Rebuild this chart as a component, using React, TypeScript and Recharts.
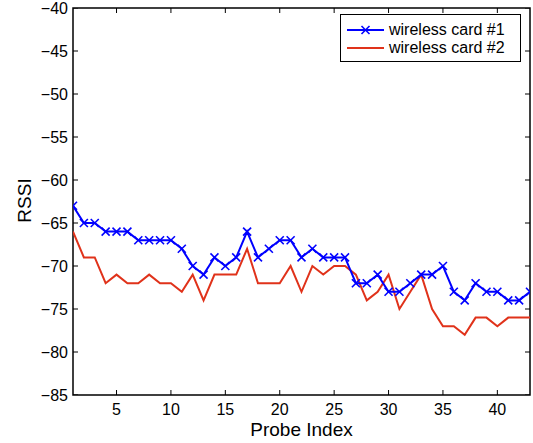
import { ComposedChart, Line, Scatter, XAxis, YAxis, ReferenceArea } from "recharts";

// probe index 1..43
const probeIndex = Array.from({ length: 43 }, (_, i) => i + 1);

const card1Rssi = [
  -63, -65, -65, -66, -66, -66, -67, -67, -67, -67,
  -68, -70, -71, -69, -70, -69, -66, -69, -68, -67,
  -67, -69, -68, -69, -69, -69, -72, -72, -71, -73,
  -73, -72, -71, -71, -70, -73, -74, -72, -73, -73,
  -74, -74, -73,
];

const card2Rssi = [
  -66, -69, -69, -72, -71, -72, -72, -71, -72, -72,
  -73, -71, -74, -71, -71, -71, -68, -72, -72, -72,
  -70, -73, -70, -71, -70, -70, -71, -74, -73, -71,
  -75, -73, -71, -75, -77, -77, -78, -76, -76, -77,
  -76, -76, -76,
];

const xTicks = [5, 10, 15, 20, 25, 30, 35, 40];
const yTicks = [-85, -80, -75, -70, -65, -60, -55, -50, -45, -40];
const X_DOMAIN: [number, number] = [1, 43];
const Y_DOMAIN: [number, number] = [-85, -40];

const SERIES = [
  { key: "card1", name: "wireless card #1", color: "#0000ff", marker: true },
  { key: "card2", name: "wireless card #2", color: "#e0321a", marker: false },
];

const FONT = "'Liberation Sans', Arial, Helvetica, sans-serif";
const TICK_LEN = 5;
const X_GAP = 9;
const Y_GAP = 5;

const data = probeIndex.map((p, i) => ({ idx: p, card1: card1Rssi[i], card2: card2Rssi[i] }));

// tick mark anchor points on the four sides of the box
const bottomMarks = xTicks.map((v) => ({ idx: v, rssi: Y_DOMAIN[0] }));
const topMarks = xTicks.map((v) => ({ idx: v, rssi: Y_DOMAIN[1] }));
const leftMarks = yTicks.map((v) => ({ idx: X_DOMAIN[0], rssi: v }));
const rightMarks = yTicks.map((v) => ({ idx: X_DOMAIN[1], rssi: v }));

const fmtMinus = (v: number) => (v < 0 ? "\u2212" + Math.abs(v) : String(v));

// MATLAB style "x" marker
function CrossDot(props: any) {
  const { cx, cy } = props;
  if (cx == null || cy == null) return null;
  const r = 4;
  return (
    <g stroke="#0000ff" strokeWidth={1.6}>
      <line x1={cx - r} y1={cy - r} x2={cx + r} y2={cy + r} />
      <line x1={cx - r} y1={cy + r} x2={cx + r} y2={cy - r} />
    </g>
  );
}

// inward tick marks
const markUp = (p: any) => <path d={`M${p.cx},${p.cy}V${p.cy - TICK_LEN}`} stroke="#000" strokeWidth={1} fill="none" />;
const markDown = (p: any) => <path d={`M${p.cx},${p.cy}V${p.cy + TICK_LEN}`} stroke="#000" strokeWidth={1} fill="none" />;
const markRight = (p: any) => <path d={`M${p.cx},${p.cy}H${p.cx + TICK_LEN}`} stroke="#000" strokeWidth={1} fill="none" />;
const markLeft = (p: any) => <path d={`M${p.cx},${p.cy}H${p.cx - TICK_LEN}`} stroke="#000" strokeWidth={1} fill="none" />;

function BottomTick({ x, y, payload }: any) {
  return (
    <text x={x} y={y} dy="0.71em" textAnchor="middle" fontSize={16} fontFamily={FONT} fill="#000">
      {payload.value}
    </text>
  );
}

function LeftTick({ x, y, payload }: any) {
  return (
    <text x={x} y={y} dy="0.355em" textAnchor="end" fontSize={16} fontFamily={FONT} fill="#000">
      {fmtMinus(payload.value)}
    </text>
  );
}

function LegendBox() {
  return (
    <div
      style={{
        position: "absolute",
        left: 340,
        top: 14,
        border: "1px solid #000",
        background: "#fff",
        width: 181,
        height: 48,
        boxSizing: "border-box",
        fontFamily: FONT,
        fontSize: 16,
        color: "#000",
        paddingTop: 6,
      }}
    >
      {SERIES.map((s) => (
        <div key={s.key} style={{ display: "flex", alignItems: "center", height: 18 }}>
          <svg width={48} height={18} style={{ flex: "none" }}>
            <line x1={6} y1={9} x2={43} y2={9} stroke={s.color} strokeWidth={2} />
            {s.marker && <CrossDot cx={24.5} cy={9} />}
          </svg>
          <span style={{ whiteSpace: "nowrap" }}>{s.name}</span>
        </div>
      ))}
    </div>
  );
}

export default function App() {
  return (
    <div style={{ position: "absolute", left: 0, top: 0, width: 533, height: 443, background: "#fff" }}>
      <ComposedChart width={533} height={443} data={data} margin={{ top: 8, right: 3, bottom: 0, left: 0 }}>
        <XAxis
          dataKey="idx"
          type="number"
          domain={X_DOMAIN}
          ticks={xTicks}
          height={48}
          tick={<BottomTick />}
          tickLine={false}
          axisLine={false}
          tickSize={0}
          tickMargin={X_GAP}
          interval={0}
          allowDataOverflow
          label={{ value: "Probe Index", position: "insideBottom", offset: 7, fontSize: 19, fill: "#000", fontFamily: FONT }}
        />
        <YAxis
          type="number"
          domain={Y_DOMAIN}
          ticks={yTicks}
          width={73}
          tick={<LeftTick />}
          tickLine={false}
          axisLine={false}
          tickSize={0}
          tickMargin={Y_GAP}
          interval={0}
          allowDataOverflow
          label={(props: any) => {
            const vb = props.viewBox;
            const cy = vb.y + vb.height / 2 - 1;
            return (
              <text
                x={31}
                y={cy}
                transform={`rotate(-90, 31, ${cy})`}
                textAnchor="middle"
                fontSize={19}
                fontFamily={FONT}
                fill="#000"
              >
                RSSI
              </text>
            );
          }}
        />
        {/* plot box */}
        <ReferenceArea
          x1={X_DOMAIN[0]}
          x2={X_DOMAIN[1]}
          y1={Y_DOMAIN[0]}
          y2={Y_DOMAIN[1]}
          fill="none"
          fillOpacity={0}
          stroke="#000"
          strokeWidth={1.5}
          strokeOpacity={1}
          ifOverflow="visible"
        />
        <Scatter data={bottomMarks} dataKey="rssi" shape={markUp} isAnimationActive={false} />
        <Scatter data={topMarks} dataKey="rssi" shape={markDown} isAnimationActive={false} />
        <Scatter data={leftMarks} dataKey="rssi" shape={markRight} isAnimationActive={false} />
        <Scatter data={rightMarks} dataKey="rssi" shape={markLeft} isAnimationActive={false} />
        <Line
          type="linear"
          dataKey="card2"
          name={SERIES[1].name}
          stroke={SERIES[1].color}
          strokeWidth={2}
          dot={false}
          activeDot={false}
          isAnimationActive={false}
        />
        <Line
          type="linear"
          dataKey="card1"
          name={SERIES[0].name}
          stroke={SERIES[0].color}
          strokeWidth={2}
          dot={<CrossDot />}
          activeDot={false}
          isAnimationActive={false}
        />
      </ComposedChart>
      <LegendBox />
    </div>
  );
}
